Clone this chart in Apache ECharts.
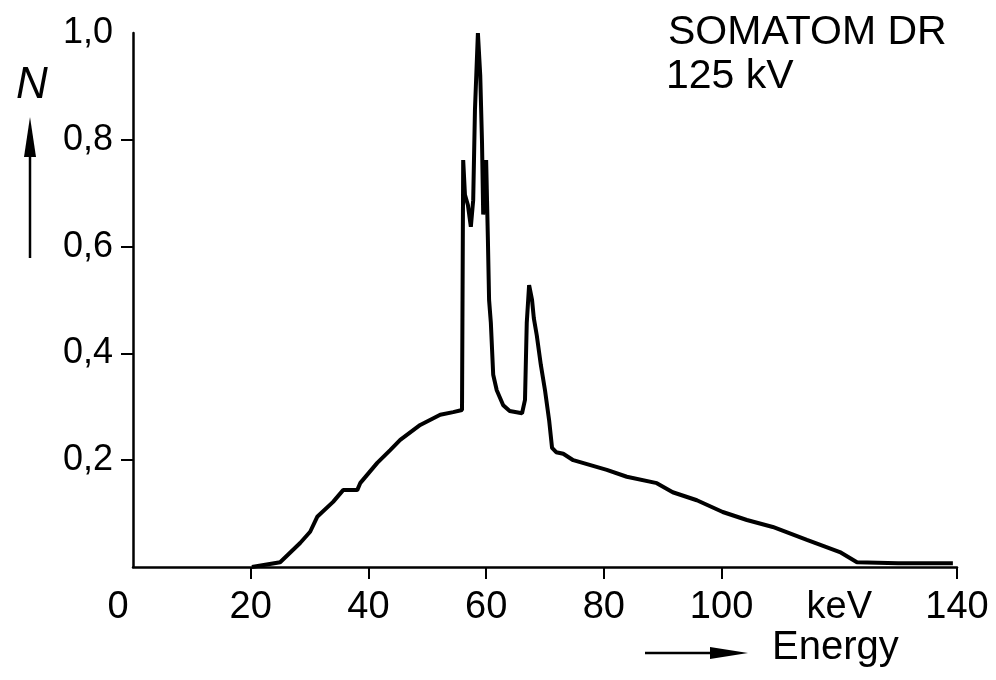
<!DOCTYPE html>
<html>
<head>
<meta charset="utf-8">
<title>SOMATOM DR 125 kV spectrum</title>
<script src="https://cdn.jsdelivr.net/npm/echarts@6/dist/echarts.min.js"></script>
<style>
  html, body { margin: 0; padding: 0; background: #fff; }
  #chart { width: 996px; height: 680px; }
</style>
</head>
<body>
<div id="chart"></div>
<script>
// photon energy (keV) and relative count N
var energy = [20.2, 25.0, 28.4, 30.1, 31.3, 34.0, 35.7, 38.1, 38.6, 41.5, 43.7, 45.4, 48.8, 52.2, 54.4,
  55.9, 56.1, 56.4, 56.9, 57.4, 57.8, 58.1, 58.6, 59.0, 59.3, 59.5, 60.0, 60.3, 60.5, 60.8, 61.2,
  61.8, 62.9, 64.0, 66.1, 66.6, 66.9, 67.3, 67.8, 68.1, 68.6, 69.3, 70.0, 70.7, 71.2, 71.9, 73.1,
  74.8, 80.5, 83.9, 89.0, 91.7, 95.8, 100.2, 104.3, 108.7, 114.5, 120.1, 123.0, 130.0, 139.3];
var counts = [0.0, 0.009, 0.045, 0.066, 0.094, 0.122, 0.144, 0.144, 0.157, 0.195, 0.219, 0.238, 0.266, 0.285, 0.29,
  0.294, 0.762, 0.697, 0.678, 0.637, 0.687, 0.856, 1.0, 0.92, 0.794, 0.66, 0.762, 0.612, 0.5, 0.457, 0.36,
  0.331, 0.303, 0.292, 0.288, 0.313, 0.457, 0.528, 0.5, 0.466, 0.434, 0.378, 0.331, 0.275, 0.223, 0.215, 0.212,
  0.2, 0.182, 0.169, 0.157, 0.14, 0.125, 0.103, 0.088, 0.075, 0.051, 0.028, 0.009, 0.007, 0.007];

var xTicks = [20, 40, 60, 80, 100, 140];
var yTicks = [0.2, 0.4, 0.6, 0.8];
var yLabels = [0.2, 0.4, 0.6, 0.8, 1.0];

var chart = echarts.init(document.getElementById('chart'));

var points = energy.map(function (e, i) { return [e, counts[i]]; });

chart.setOption({
  animation: false,
  backgroundColor: '#fff',
  grid: { left: 133, right: 39, top: 33, bottom: 113, outerBoundsMode: 'none' },
  xAxis: {
    type: 'value',
    min: 0, max: 140, interval: 20,
    splitLine: { show: false },
    axisLine: { onZero: false, lineStyle: { color: '#000', width: 2.5 } },
    axisTick: { customValues: xTicks, length: 12, lineStyle: { color: '#000', width: 2 } },
    axisLabel: {
      margin: 22,
      color: '#000',
      fontFamily: 'Liberation Sans',
      fontSize: 38,
      showMinLabel: true,
      showMaxLabel: true,
      formatter: function (v) {
        if (v === 120) return 'keV';
        if (v === 0) return '{z|0}';
        return String(v);
      },
      rich: { z: { fontFamily: 'Liberation Sans', fontSize: 38, color: '#000', padding: [0, 30, 0, 0] } }
    }
  },
  yAxis: {
    type: 'value',
    min: 0, max: 1, interval: 0.2,
    splitLine: { show: false },
    axisLine: { show: true, lineStyle: { color: '#000', width: 2.5 } },
    axisTick: { show: true, customValues: yTicks, length: 12, lineStyle: { color: '#000', width: 2 } },
    axisLabel: {
      customValues: yLabels,
      margin: 20,
      color: '#000',
      fontFamily: 'Liberation Sans',
      fontSize: 36,
      formatter: function (v) { return v.toFixed(1).replace('.', ','); }
    }
  },
  series: [{
    type: 'line',
    data: points,
    showSymbol: false,
    lineStyle: { color: '#000', width: 4, join: 'bevel' }
  }],
  graphic: [
    { type: 'text', left: 668, top: 12, style: { text: 'SOMATOM DR', fill: '#000', font: '41px "Liberation Sans"' } },
    { type: 'text', left: 666, top: 56, style: { text: '125 kV', fill: '#000', font: '41px "Liberation Sans"' } },
    { type: 'text', left: 16, top: 64, style: { text: 'N', fill: '#000', font: 'italic 44px "Liberation Sans"' } },
    { type: 'line', shape: { x1: 30, y1: 258, x2: 30, y2: 145 }, style: { stroke: '#000', lineWidth: 2.5 } },
    { type: 'polygon', shape: { points: [[30, 117], [24, 157], [36, 157]] }, style: { fill: '#000' } },
    { type: 'line', shape: { x1: 645, y1: 653, x2: 715, y2: 653 }, style: { stroke: '#000', lineWidth: 2.5 } },
    { type: 'polygon', shape: { points: [[748, 653], [710, 647], [710, 659]] }, style: { fill: '#000' } },
    { type: 'text', left: 772, top: 628, style: { text: 'Energy', fill: '#000', font: '40px "Liberation Sans"' } }
  ]
});
</script>
</body>
</html>
